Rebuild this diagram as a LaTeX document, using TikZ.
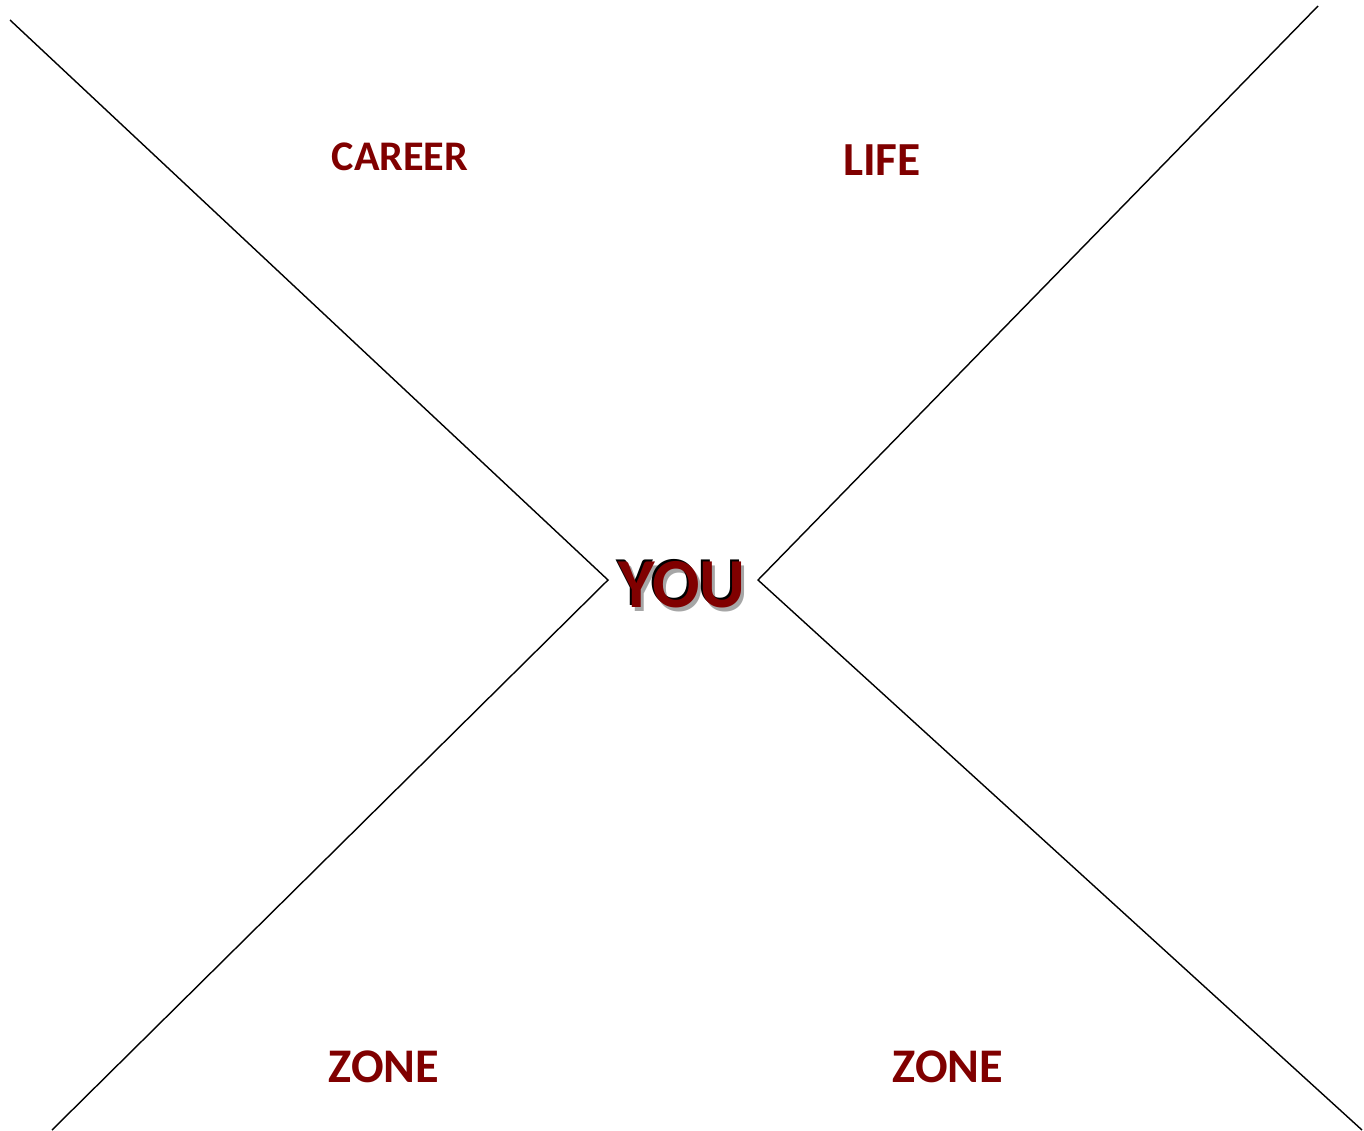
\documentclass[tikz,border=0pt]{standalone}
\usepackage{fontspec}
\setmainfont{Carlito}
\definecolor{zonered}{HTML}{800000}
\definecolor{shadowgray}{HTML}{A6A6A6}

\begin{document}
\begin{tikzpicture}[x=0.02cm, y=-0.02cm,
    label/.style={text=zonered, font=\bfseries\fontsize{27}{30}\selectfont, inner sep=0pt},
    you/.style={font=\bfseries\fontsize{40}{44}\selectfont, inner sep=0pt}]

    % 画布边界
    \useasboundingbox (0,0) rectangle (1364,1130);

    % 定义两条折线的顶点
    \coordinate (LT) at (10,20);
    \coordinate (LM) at (608,580);
    \coordinate (LB) at (52,1130);
    \coordinate (RT) at (1318,6);
    \coordinate (RM) at (758,580);
    \coordinate (RB) at (1362,1130);

    % 绘制两条折线
    \draw[line width=0.8pt] (LT) -- (LM) -- (LB);
    \draw[line width=0.8pt] (RT) -- (RM) -- (RB);

    % 四个区域标签
    \node[label, font=\bfseries\fontsize{24}{28}\selectfont] (career) at (400,157) {CAREER};
    \node[label] (life) at (882,160) {LIFE};
    \node[label, font=\bfseries\fontsize{27.5}{31}\selectfont] (zoneL) at (384,1067) {ZONE};
    \node[label, font=\bfseries\fontsize{27.5}{31}\selectfont] (zoneR) at (948,1067) {ZONE};

    % 中间的 YOU (阴影 + 轮廓)
    \node[you, text=shadowgray] (youshadow) at (685,589) {YOU};
    \node[you, text=black] (youedge) at (680,583) {YOU};
    \node[you, text=zonered] (you) at (682,585) {YOU};

\end{tikzpicture}
\end{document}
